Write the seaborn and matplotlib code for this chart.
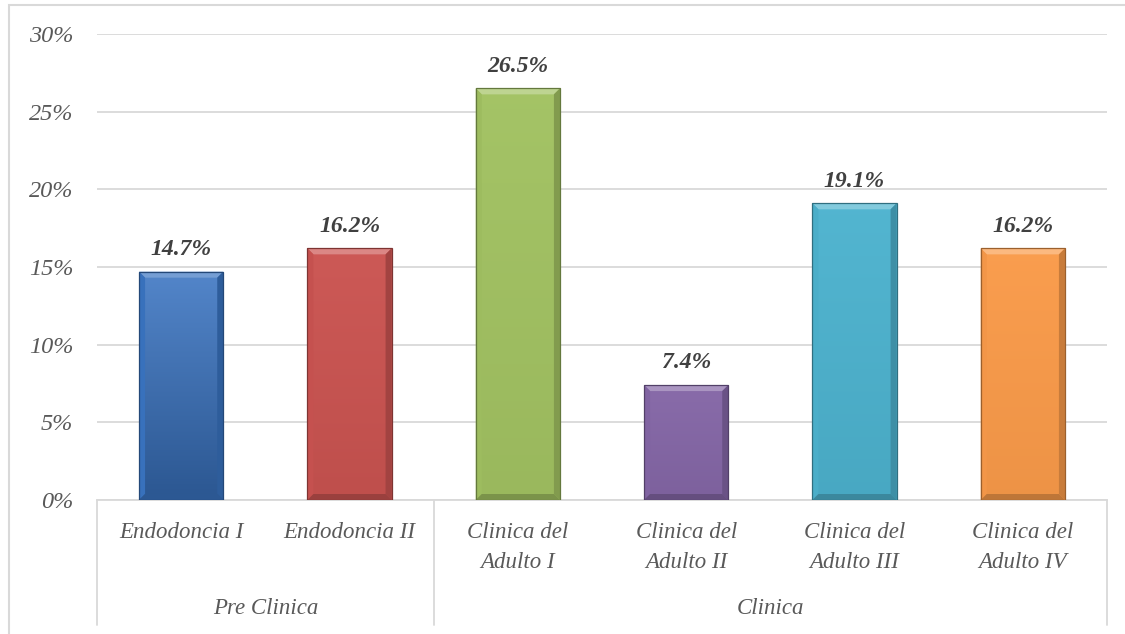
import numpy as np
import pandas as pd
import matplotlib
matplotlib.use("Agg")
import matplotlib.pyplot as plt
import matplotlib.colors as mcolors
from matplotlib.patches import Polygon, Rectangle
import seaborn as sns

# Data
categories = ["Endodoncia I", "Endodoncia II", "Clinica del\nAdulto I",
              "Clinica del\nAdulto II", "Clinica del\nAdulto III", "Clinica del\nAdulto IV"]
values = [14.7, 16.2, 26.5, 7.4, 19.1, 16.2]
groups = ["Pre Clinica", "Clinica"]
group_sizes = [2, 4]
colors = ["#3a74c2", "#cb5451", "#a2c262", "#8567a7", "#4db3cf", "#fa9b4a"]
shade = [0.25, 0.06, 0.05, 0.06, 0.06, 0.05]   # strength of vertical gradient per bar
y_ticks = [0, 5, 10, 15, 20, 25, 30]

sns.set_theme(style="white")
plt.rcParams["font.family"] = ["Liberation Serif", "DejaVu Serif"]

fig = plt.figure(figsize=(11.25, 6.34), dpi=100)
ax = fig.add_axes([97 / 1125, 1 - 500 / 634, (1107 - 97) / 1125, (500 - 34) / 634])

df = pd.DataFrame({"cat": categories, "val": values})
sns.barplot(data=df, x="cat", y="val", hue="cat", palette=colors, legend=False,
            width=0.5, ax=ax, saturation=1, zorder=3)

ax.set_ylim(0, 30)
ax.set_xlim(-0.5, len(categories) - 0.5)
ax.set_yticks(y_ticks)
ax.set_yticklabels([f"{t}%" for t in y_ticks], fontsize=17.5, style="italic", color="#595959")
ax.tick_params(axis="y", length=0, pad=17)
ax.set_xticks([])
ax.set_xlabel("")
ax.set_ylabel("")
ax.grid(axis="y", color="#d9d9d9", linewidth=1.3, zorder=0)
for s in ["top", "right", "left"]:
    ax.spines[s].set_visible(False)
ax.spines["bottom"].set_color("#d9d9d9")
ax.spines["bottom"].set_linewidth(1.3)
ax.spines["bottom"].set_zorder(1)

# Bevel / gradient styling on each bar
px_per_x = (1107 - 97) / len(categories)
px_per_y = (500 - 34) / 30.0
bx = 6 / px_per_x
by = 6 / px_per_y
for patch, col, k in zip(ax.patches, colors, shade):
    x0, y0 = patch.get_x(), patch.get_y()
    w, h = patch.get_width(), patch.get_height()
    base = np.array(mcolors.to_rgb(col))
    light = np.clip(base + (1 - base) * 0.3, 0, 1)
    dark = base * 0.8
    patch.set_edgecolor("none")
    # vertical gradient clipped to the bar
    grad = np.linspace(0, 1, 100)[:, None]
    top_c = np.clip(base + (1 - base) * k * 0.5, 0, 1)
    bot_c = base * (1 - k)
    img = top_c[None, None, :] * (1 - grad[..., None]) + bot_c[None, None, :] * grad[..., None]
    im = ax.imshow(img, extent=[x0, x0 + w, y0, y0 + h], aspect="auto", zorder=3.1,
                   origin="upper")
    im.set_clip_path(patch)
    x1, y1 = x0 + w, y0 + h
    top = Polygon([(x0, y1), (x1, y1), (x1 - bx, y1 - by), (x0 + bx, y1 - by)],
                  closed=True, facecolor=light, edgecolor="none", zorder=3.2)
    left = Polygon([(x0, y0), (x0, y1), (x0 + bx, y1 - by), (x0 + bx, y0 + by)],
                   closed=True, facecolor=np.clip(base * 0.97, 0, 1), edgecolor="none", zorder=3.2)
    right = Polygon([(x1, y0), (x1, y1), (x1 - bx, y1 - by), (x1 - bx, y0 + by)],
                    closed=True, facecolor=dark, edgecolor="none", zorder=3.2)
    bottom = Polygon([(x0, y0), (x1, y0), (x1 - bx, y0 + by), (x0 + bx, y0 + by)],
                     closed=True, facecolor=dark * 0.95, edgecolor="none", zorder=3.2)
    for p in (top, left, right, bottom):
        ax.add_patch(p)
    outline = Rectangle((x0, y0), w, h, facecolor="none", edgecolor=tuple(base * 0.62),
                        linewidth=0.9, zorder=3.3)
    ax.add_patch(outline)

# Value labels
for i, v in enumerate(values):
    ax.text(i, v + 0.75, f"{v:.1f}%", ha="center", va="bottom", fontsize=17,
            style="italic", fontweight="bold", color="#404040", zorder=4)

# Category labels and group labels beneath the axis
trans = ax.get_xaxis_transform()
for i, c in enumerate(categories):
    ax.text(i, -0.047, c, transform=trans, ha="center", va="top", fontsize=16.5,
            style="italic", color="#595959", linespacing=1.55)

line_bottom = -0.268
edges = [-0.5]
for n in group_sizes:
    edges.append(edges[-1] + n)
for e in edges:
    ax.plot([e, e], [0, line_bottom], transform=trans, color="#d9d9d9",
            linewidth=1.3, clip_on=False)
for g, a, b in zip(groups, edges[:-1], edges[1:]):
    ax.text((a + b) / 2, -0.232, g, transform=trans, ha="center", va="center",
            fontsize=16.5, style="italic", color="#595959")

# Chart border (open to the right and bottom edges of the image)
fig.patches.append(Rectangle((9 / 1125, -0.05), 1.2, 1 - 5 / 634 + 0.05,
                             transform=fig.transFigure, facecolor="none",
                             edgecolor="#d9d9d9", linewidth=1.5))

fig.savefig("out.png", dpi=100)
